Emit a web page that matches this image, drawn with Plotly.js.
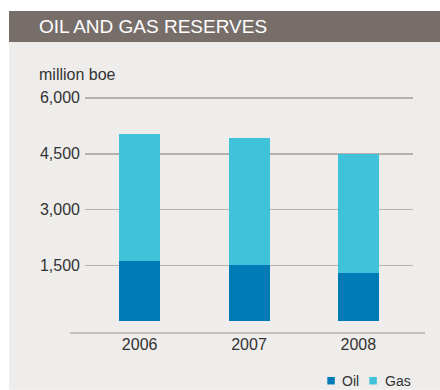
<!DOCTYPE html>
<html><head><meta charset="utf-8">
<script src="https://cdn.plot.ly/plotly-3.0.1.min.js"></script>
<style>html,body{margin:0;padding:0;background:#fff}#c{width:440px;height:390px}</style>
</head><body><div id="c"></div>
<script>
const years = ['2006','2007','2008'];
const oil = [1625, 1520, 1305];
const gas = [3405, 3405, 3190];
const seriesNames = ['Oil', 'Gas'];
const seriesColors = ['#007bb5', '#41c2db'];
const yTicks = [1500, 3000, 4500, 6000];
const yTickText = ['1,500', '3,000', '4,500', '6,000'];

// pixel helpers for paper coords
const L = 85, R = 413, TOP = 83.1, BOT = 333.3;
const px = x => (x - L) / (R - L);
const py = y => (BOT - y) / (BOT - TOP);

const data = [
  {type:'bar', name:seriesNames[0], x:years, y:oil, marker:{color:seriesColors[0]}, hoverinfo:'skip', showlegend:false},
  {type:'bar', name:seriesNames[1], x:years, y:gas, marker:{color:seriesColors[1]}, hoverinfo:'skip', showlegend:false}
];
const font = 'Liberation Sans, Arial, sans-serif';

// custom legend (small squares + labels)
const legendSq = [327.3, 369.3];
const legendTx = [339.5, 382.5];
const legendShapes = seriesNames.map((n, i) => ({
  type:'rect', xref:'paper', yref:'paper', x0:px(legendSq[i]), x1:px(legendSq[i] + 7.5),
  y0:py(384.8), y1:py(377.3), fillcolor:seriesColors[i], line:{width:0}
}));
const legendAnn = seriesNames.map((n, i) => ({
  text:n, xref:'paper', yref:'paper', x:px(legendTx[i]), y:py(381.5), xanchor:'left', yanchor:'middle',
  showarrow:false, font:{size:14, color:'#333', family:font}
}));

const layout = {
  width:440, height:390,
  margin:{l:L, r:440-R, t:TOP, b:390-BOT, pad:0, autoexpand:false},
  paper_bgcolor:'#ffffff', plot_bgcolor:'rgba(0,0,0,0)',
  barmode:'stack', bargap:0.625,
  font:{family:font, color:'#333333', size:16},
  xaxis:{type:'category', range:[-0.5,2.5], showgrid:false, showline:false, zeroline:false,
         ticks:'', tickfont:{size:16, color:'#333'}, fixedrange:true, automargin:false},
  yaxis:{range:[-314, 6400], tickvals:yTicks, ticktext:yTickText, showgrid:true,
         gridcolor:'#b8b0ab', gridwidth:1.5, zeroline:false, showline:false, ticks:'',
         ticklabelstandoff:4, tickfont:{size:16, color:'#333'}, fixedrange:true, automargin:false},
  showlegend:false,
  shapes:[
    {type:'rect', xref:'paper', yref:'paper', x0:px(9), x1:px(440), y0:py(390), y1:py(42),
     fillcolor:'#eeedeb', line:{width:0}, layer:'below'},
    {type:'rect', xref:'paper', yref:'paper', x0:px(9), x1:px(440), y0:py(42), y1:py(11),
     fillcolor:'#776e6a', line:{width:0}, layer:'below'},
    {type:'line', xref:'paper', yref:'paper', x0:px(70), x1:px(425), y0:0, y1:0,
     line:{color:'#b8b0ab', width:1.5}}
  ].concat(legendShapes),
  annotations:[
    {text:'OIL AND GAS RESERVES', xref:'paper', yref:'paper', x:px(37), y:py(27),
     xanchor:'left', yanchor:'middle', showarrow:false, font:{size:19, color:'#ffffff', family:font}},
    {text:'million boe', xref:'paper', yref:'paper', x:px(37), y:py(75),
     xanchor:'left', yanchor:'middle', showarrow:false, font:{size:16, color:'#333', family:font}}
  ].concat(legendAnn)
};
Plotly.newPlot('c', data, layout, {displayModeBar:false, staticPlot:true});
</script></body></html>
